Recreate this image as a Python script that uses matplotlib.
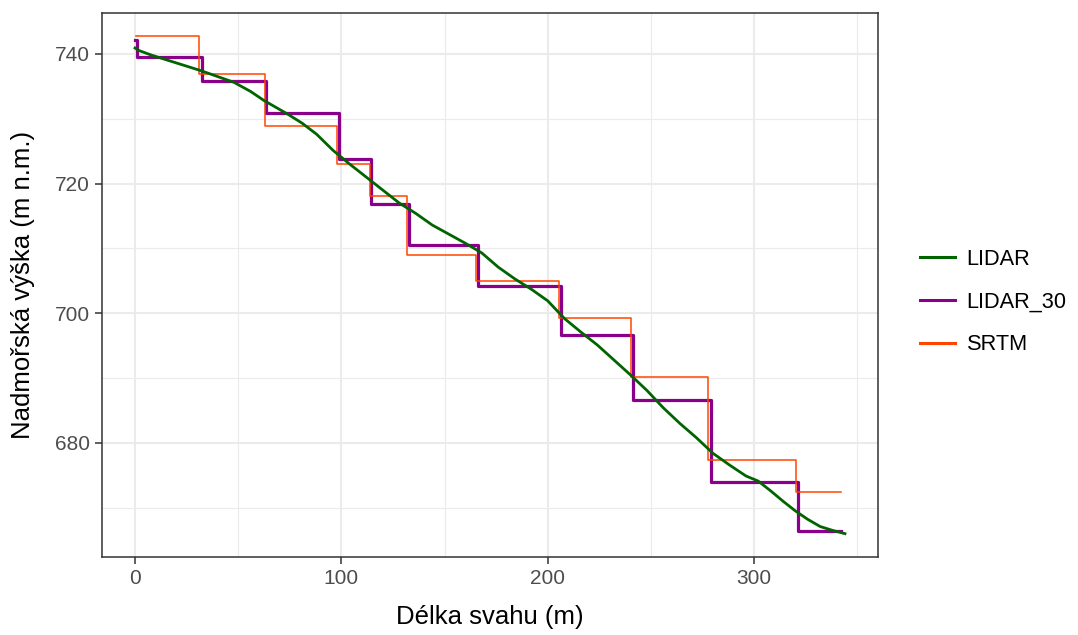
import matplotlib
matplotlib.use("Agg")
import matplotlib.pyplot as plt
from matplotlib.lines import Line2D
from matplotlib.ticker import MultipleLocator

plt.rcParams["font.family"] = ["Liberation Sans", "DejaVu Sans"]

# LIDAR profile
lidar_x = [0, 2, 8, 16, 24, 32, 40, 48, 56, 62.5, 68, 74, 81, 88, 96, 104, 112,
           120, 128, 136, 144, 152, 160, 168, 176, 184, 192, 200, 208, 216, 224,
           232, 240, 248, 256, 264, 272, 280, 288, 296, 302, 308, 314, 320, 326,
           332, 338, 344]
lidar_z = [740.9, 740.5, 739.8, 739.0, 738.2, 737.4, 736.5, 735.6, 734.2, 732.8,
           731.8, 730.7, 729.3, 727.6, 725.1, 723.0, 721.0, 719.0, 717.0, 715.4,
           713.6, 712.2, 710.8, 709.3, 707.1, 705.3, 703.7, 701.9, 699.2, 697.1,
           695.1, 692.8, 690.5, 688.1, 685.4, 683.0, 680.8, 678.4, 676.6, 674.9,
           674.1, 672.6, 671.0, 669.5, 668.2, 667.1, 666.5, 666.0]

# LIDAR resampled to 30 m (step breakpoints + levels)
l30_x = [0, 1, 32.4, 63.6, 98.7, 114.3, 132.9, 166.3, 206.5, 241.2, 279.2, 321.3, 342.2]
l30_z = [742.2, 739.5, 735.8, 730.9, 723.8, 716.9, 710.5, 704.2, 696.6, 686.6, 674.0, 666.4, 666.4]

# SRTM
srtm_x = [0.5, 31.1, 62.8, 97.9, 113.7, 131.7, 165.2, 205.5, 240.1, 277.6, 320.1, 342.2]
srtm_z = [742.8, 736.9, 728.8, 723.0, 718.1, 708.9, 705.0, 699.2, 690.1, 677.4, 672.4, 672.4]

colors = {"LIDAR": "#006400", "LIDAR_30": "#8B008B", "SRTM": "#FF4500"}

fig = plt.figure(figsize=(10.78, 6.35), dpi=100)
ax = fig.add_axes([102 / 1078, 1 - 557 / 635, 776 / 1078, 544 / 635])

ax.step(l30_x, l30_z, where="post", color=colors["LIDAR_30"], lw=2.3, zorder=3)
ax.step(srtm_x, srtm_z, where="post", color=colors["SRTM"], lw=1.1, zorder=4)
ax.plot(lidar_x, lidar_z, color=colors["LIDAR"], lw=2.0, zorder=5)

ax.set_xlim(-16, 360)
ax.set_ylim(662.4, 746.3)
ax.xaxis.set_major_locator(MultipleLocator(100))
ax.xaxis.set_minor_locator(MultipleLocator(50))
ax.yaxis.set_major_locator(MultipleLocator(20))
ax.yaxis.set_minor_locator(MultipleLocator(10))
ax.grid(which="major", color="#EBEBEB", lw=1.5, zorder=0)
ax.grid(which="minor", color="#EBEBEB", lw=0.8, zorder=0)
ax.set_axisbelow(True)

for s in ax.spines.values():
    s.set_color("#333333")
    s.set_linewidth(1.1)
ax.tick_params(which="major", length=5, width=1.1, color="#333333",
               labelcolor="#4D4D4D", labelsize=15, pad=4)
ax.tick_params(which="minor", length=0)

ax.set_xlabel("Délka svahu (m)", fontsize=18.5, color="black", labelpad=12)
ax.set_ylabel("Nadmořská výška (m n.m.)", fontsize=18.5, color="black", labelpad=14)

handles = [Line2D([], [], color=colors[k], lw=2.2) for k in colors]
fig.legend(handles, list(colors), loc="center left",
           bbox_to_anchor=(900 / 1078, 1 - 302 / 635), frameon=False,
           fontsize=15.7, handlelength=1.6, handletextpad=0.55, labelspacing=1.0)

fig.savefig("out.png", dpi=100)
